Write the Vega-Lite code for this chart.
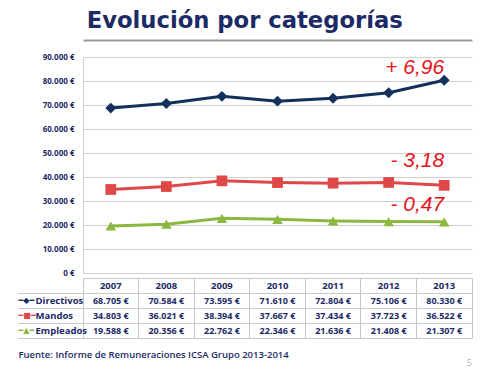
{
  "$schema": "https://vega.github.io/schema/vega-lite/v6.json",
  "padding": {"left": 17, "top": 10, "right": 10, "bottom": 5},
  "background": "white",
  "config": {
    "locale": {"number": {"decimal": ",", "thousands": ".", "grouping": [3], "currency": ["", " €"]}},
    "font": "Open Sans"
  },
  "title": {"text": "Evolución por categorías", "fontSize": 22.7, "font": "DejaVu Sans", "fontWeight": "bold", "color": "#1c2a66", "anchor": "middle", "frame": "bounds", "offset": 5},
  "datasets": {
    "salarios": [
      {"year": "2007", "series": "Directivos", "value": 68705},
      {"year": "2008", "series": "Directivos", "value": 70584},
      {"year": "2009", "series": "Directivos", "value": 73595},
      {"year": "2010", "series": "Directivos", "value": 71610},
      {"year": "2011", "series": "Directivos", "value": 72804},
      {"year": "2012", "series": "Directivos", "value": 75106},
      {"year": "2013", "series": "Directivos", "value": 80330},
      {"year": "2007", "series": "Mandos", "value": 34803},
      {"year": "2008", "series": "Mandos", "value": 36021},
      {"year": "2009", "series": "Mandos", "value": 38394},
      {"year": "2010", "series": "Mandos", "value": 37667},
      {"year": "2011", "series": "Mandos", "value": 37434},
      {"year": "2012", "series": "Mandos", "value": 37723},
      {"year": "2013", "series": "Mandos", "value": 36522},
      {"year": "2007", "series": "Empleados", "value": 19588},
      {"year": "2008", "series": "Empleados", "value": 20356},
      {"year": "2009", "series": "Empleados", "value": 22762},
      {"year": "2010", "series": "Empleados", "value": 22346},
      {"year": "2011", "series": "Empleados", "value": 21636},
      {"year": "2012", "series": "Empleados", "value": 21408},
      {"year": "2013", "series": "Empleados", "value": 21307}
    ],
    "notas": [
      {"series": "Directivos", "note": "+ 6,96"},
      {"series": "Mandos", "note": "- 3,18"},
      {"series": "Empleados", "note": "- 0,47"}
    ]
  },
  "spacing": 0,
  "resolve": {"scale": {"x": "independent", "y": "independent"}},
  "vconcat": [
    {
      "width": 389,
      "height": 216,
      "data": {"name": "salarios"},
      "view": {"stroke": null},
      "encoding": {
        "x": {"field": "year", "type": "ordinal", "scale": {"type": "point", "padding": 0.5},
          "axis": {"orient": "top", "labels": true, "labelExpr": "''", "ticks": true, "tickSize": 0, "tickColor": "transparent", "grid": false, "domain": true, "domainColor": "#9a9a9a", "domainWidth": 2, "domainOpacity": 1, "offset": 17, "title": null, "zindex": 1}},
        "y": {"field": "value", "type": "quantitative", "scale": {"domain": [0, 90000], "nice": false},
          "axis": {"values": [0, 10000, 20000, 30000, 40000, 50000, 60000, 70000, 80000, 90000], "format": "$,.0f", "labelFontWeight": "bold", "labelFontSize": 8, "labelColor": "#1c2a66", "labelPadding": 9, "ticks": false, "domainColor": "#d0d0d0", "gridColor": "#d0d0d0", "title": null}},
        "color": {"field": "series", "type": "nominal", "scale": {"domain": ["Directivos", "Mandos", "Empleados"], "range": ["#13315c", "#df4848", "#8cb83f"]}, "legend": null}
      },
      "layer": [
        {"mark": {"type": "line", "strokeWidth": 3}},
        {"mark": {"type": "point", "filled": true, "opacity": 1},
          "encoding": {
            "shape": {"field": "series", "type": "nominal", "scale": {"domain": ["Directivos", "Mandos", "Empleados"], "range": ["diamond", "square", "triangle-up"]}, "legend": null},
            "size": {"field": "series", "type": "nominal", "scale": {"domain": ["Directivos", "Mandos", "Empleados"], "range": [120, 110, 130]}, "legend": null}
          }},
        {"transform": [{"filter": "datum.year === '2013' && datum.series === 'Directivos'"}, {"lookup": "series", "from": {"data": {"name": "notas"}, "key": "series", "fields": ["note"]}}],
          "mark": {"type": "text", "align": "right", "baseline": "bottom", "dy": -2, "fontSize": 21, "fontStyle": "italic", "font": "Liberation Sans"},
          "encoding": {"text": {"field": "note"}, "color": {"value": "#e8141c"}}},
        {"transform": [{"filter": "datum.year === '2013' && datum.series === 'Mandos'"}, {"lookup": "series", "from": {"data": {"name": "notas"}, "key": "series", "fields": ["note"]}}],
          "mark": {"type": "text", "align": "right", "baseline": "bottom", "dy": -14, "fontSize": 21, "fontStyle": "italic", "font": "Liberation Sans"},
          "encoding": {"text": {"field": "note"}, "color": {"value": "#e8141c"}}},
        {"transform": [{"filter": "datum.year === '2013' && datum.series === 'Empleados'"}, {"lookup": "series", "from": {"data": {"name": "notas"}, "key": "series", "fields": ["note"]}}],
          "mark": {"type": "text", "align": "right", "baseline": "bottom", "dy": -7, "fontSize": 21, "fontStyle": "italic", "font": "Liberation Sans"},
          "encoding": {"text": {"field": "note"}, "color": {"value": "#e8141c"}}}
      ]
    },
    {
      "width": 389,
      "height": 60,
      "data": {"name": "salarios"},
      "view": {"stroke": "#c8c8c8"},
      "title": {"text": "5", "orient": "bottom", "anchor": "end", "fontSize": 9, "color": "#b0b0b0", "fontWeight": "normal", "offset": 0},
      "encoding": {
        "x": {"field": "year", "type": "ordinal", "scale": {"type": "band", "paddingInner": 0, "paddingOuter": 0},
          "axis": {"orient": "bottom", "labels": false, "ticks": false, "domain": false, "grid": true, "gridColor": "#c8c8c8", "bandPosition": 0,
            "title": "Fuente: Informe de Remuneraciones ICSA Grupo 2013-2014", "titleAnchor": "start", "titleAlign": "left", "titleX": -65, "titlePadding": 11, "titleFontSize": 9.5, "titleColor": "#1c2a66", "titleFontWeight": 600}}
      },
      "layer": [
        {"mark": {"type": "text", "fontWeight": "bold", "fontSize": 9, "color": "#1c2a66"},
          "encoding": {
            "y": {"field": "series", "type": "nominal", "scale": {"type": "band", "domain": ["h", "Directivos", "Mandos", "Empleados"], "paddingInner": 0, "paddingOuter": 0},
              "axis": {"orient": "left", "title": null, "domain": false, "ticks": true, "tickSize": 65, "tickColor": "#c8c8c8", "grid": true, "gridColor": "#c8c8c8", "bandPosition": 1,
                "labelExpr": "datum.value === 'h' ? '' : datum.value", "labelAlign": "left", "labelBaseline": "middle", "labelPadding": -17, "labelFontWeight": "bold", "labelFontSize": 9.5, "labelColor": "#1c2a66"}},
            "text": {"field": "value", "type": "quantitative", "format": "$,.0f"}
          }},
        {"transform": [{"filter": "datum.series === 'Directivos'"}],
          "mark": {"type": "text", "fontWeight": "bold", "fontSize": 9.5, "color": "#1c2a66"},
          "encoding": {
            "y": {"datum": "h", "type": "nominal",
              "axis": {"orient": "left", "title": null, "domain": false, "ticks": false, "grid": false,
                "labelExpr": "datum.value === 'Directivos' ? '━◆━' : datum.value === 'Mandos' ? '━■━' : datum.value === 'Empleados' ? '━▲━' : ''",
                "labelAlign": "left", "labelBaseline": "middle", "labelPadding": 65, "labelFont": "DejaVu Sans", "labelFontSize": 8,
                "labelColor": {"condition": [{"test": "datum.value === 'Directivos'", "value": "#13315c"}, {"test": "datum.value === 'Mandos'", "value": "#df4848"}], "value": "#8cb83f"}}},
            "text": {"field": "year"}
          }}
      ],
      "resolve": {"axis": {"y": "independent"}}
    }
  ]
}
